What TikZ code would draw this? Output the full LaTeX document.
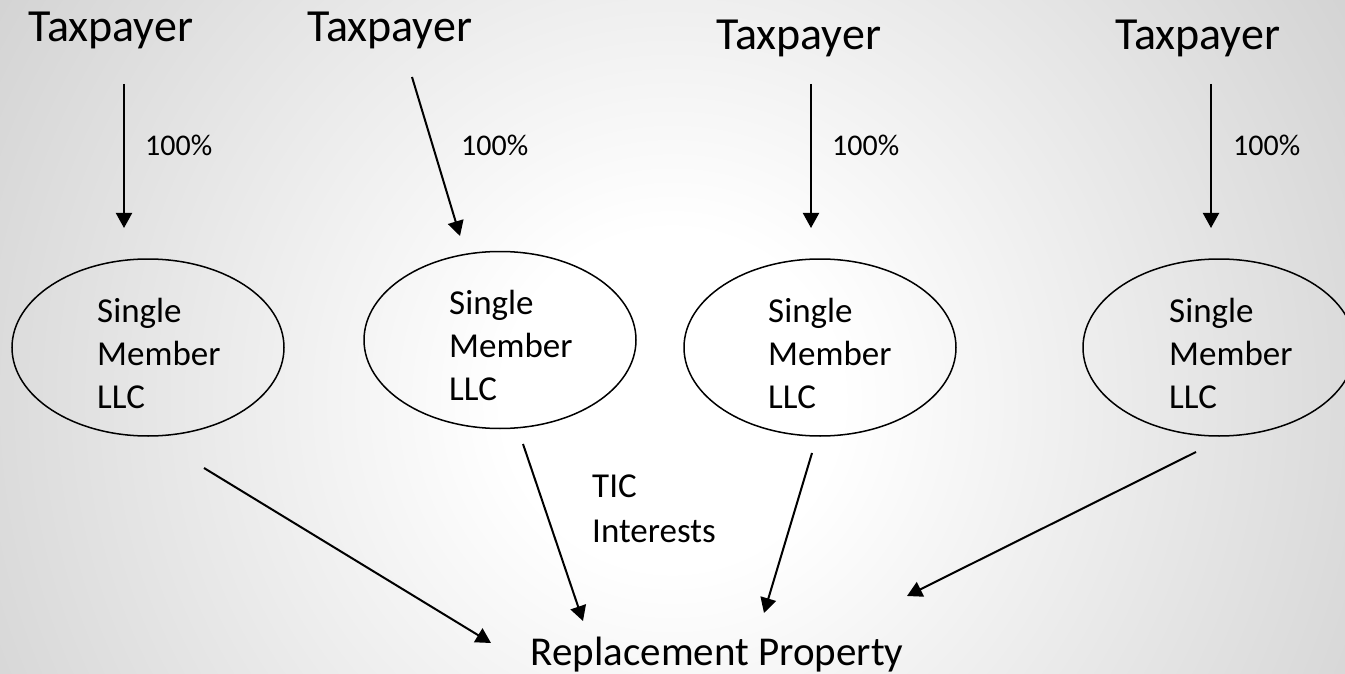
\documentclass[tikz,border=0pt]{standalone}
\usepackage{fontspec}
\setmainfont{Carlito}
\usetikzlibrary{shapes.geometric,arrows.meta}
\pgfdeclareradialshading{bgshade}{\pgfpoint{0bp}{0bp}}{color(0bp)=(white); color(6bp)=(white); color(28bp)=(black!17); color(50bp)=(black!17)}
\tikzset{
  tp/.style={anchor=base west, inner sep=0pt, font=\fontsize{46}{50}\selectfont},
  pct/.style={anchor=base west, inner sep=0pt, font=\fontsize{30}{34}\selectfont},
  llc/.style={draw, ellipse, line width=1.5pt, minimum width=272pt, minimum height=177pt, inner sep=0pt},
  llctext/.style={anchor=base west, inner sep=0pt, align=left, font=\fontsize{35}{43}\selectfont},
  arr/.style={line width=2pt, -{Triangle[width=16pt,length=15pt]}},
}
\begin{document}
\begin{tikzpicture}[x=1pt,y=-1pt]
\useasboundingbox (0,0) rectangle (1345,674);
\begin{scope}
\clip (0,0) rectangle (1345,674);
\shade[shading=bgshade] (-28,-300) rectangle (1372,1100);
\end{scope}
% taxpayers
\node[tp] (t1) at (28,42) {Taxpayer};
\node[tp] (t2) at (307,42) {Taxpayer};
\node[tp] (t3) at (716,50) {Taxpayer};
\node[tp] (t4) at (1115,50) {Taxpayer};
% percentages
\node[pct] (p1) at (145,156) {100\%};
\node[pct] (p2) at (461,156) {100\%};
\node[pct] (p3) at (832,156) {100\%};
\node[pct] (p4) at (1233,156) {100\%};
% ellipses
\node[llc] (e1) at (148,347.5) {};
\node[llc] (e2) at (500,340) {};
\node[llc] (e3) at (820,347.5) {};
\node[llc] (e4) at (1219,347.5) {};
% multi-line text: base anchor = baseline of last line
\node[llctext] (e1t) at (97,408) {Single\\Member\\LLC};
\node[llctext] (e2t) at (449,400) {Single\\Member\\LLC};
\node[llctext] (e3t) at (768,408) {Single\\Member\\LLC};
\node[llctext] (e4t) at (1169,408) {Single\\Member\\LLC};
% TIC label and replacement property
\node[anchor=base west, inner sep=0pt, align=left, font=\fontsize{35}{45}\selectfont] (tic) at (592,542) {TIC\\Interests};
\node[anchor=base, inner sep=0pt, font=\fontsize{41}{45}\selectfont] (rp) at (717,665) {Replacement Property};
% arrow end points
\coordinate (a1s) at (124,84);   \coordinate (a1e) at (124,228);
\coordinate (a2s) at (412,77);   \coordinate (a2e) at (460,236);
\coordinate (a3s) at (811,84);   \coordinate (a3e) at (811,228);
\coordinate (a4s) at (1211,84);  \coordinate (a4e) at (1211,228);
\coordinate (b1s) at (204,468);  \coordinate (b1e) at (491,643);
\coordinate (b2s) at (523,444);  \coordinate (b2e) at (583,621);
\coordinate (b3s) at (812,453);  \coordinate (b3e) at (764,613);
\coordinate (b4s) at (1196,452); \coordinate (b4e) at (907,596);
\draw[arr] (a1s) -- (a1e);
\draw[arr] (a2s) -- (a2e);
\draw[arr] (a3s) -- (a3e);
\draw[arr] (a4s) -- (a4e);
\draw[arr] (b1s) -- (b1e);
\draw[arr] (b2s) -- (b2e);
\draw[arr] (b3s) -- (b3e);
\draw[arr] (b4s) -- (b4e);
\end{tikzpicture}
\end{document}
